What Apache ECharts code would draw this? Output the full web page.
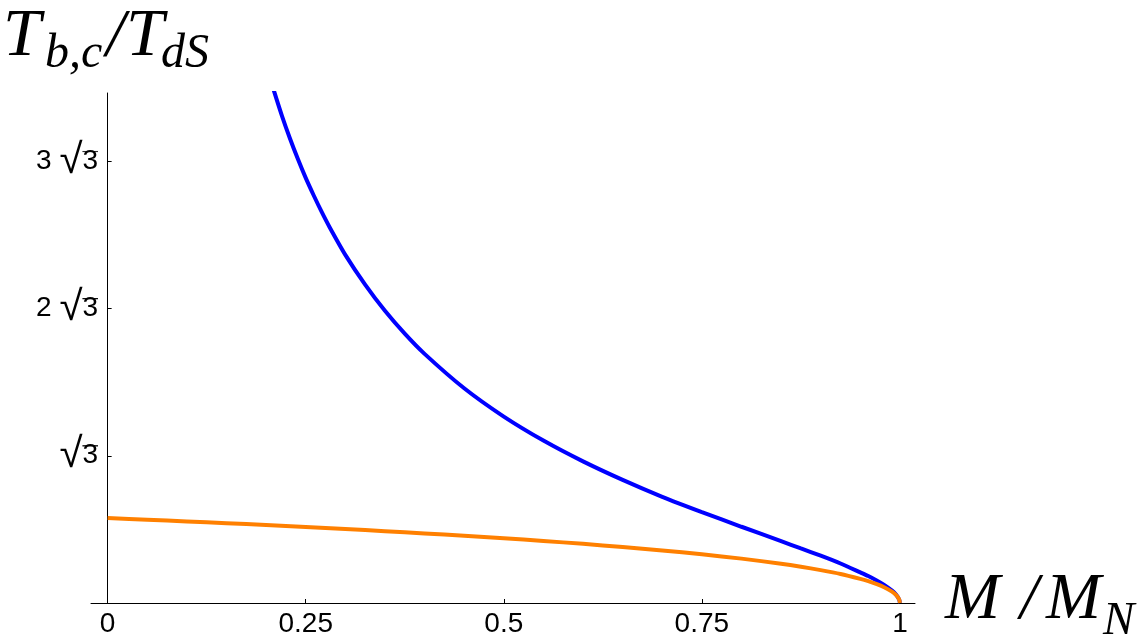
<!DOCTYPE html>
<html>
<head>
<meta charset="utf-8">
<script src="https://cdn.jsdelivr.net/npm/echarts@6/dist/echarts.min.js"></script>
<style>
html,body{margin:0;padding:0;background:#fff;}
#chart{width:1146px;height:644px;}
</style>
</head>
<body>
<div id="chart"></div>
<script>
// x positions (M / M_N) and values (T / T_dS)
var blueX = [0.205, 0.21, 0.22, 0.23, 0.24, 0.25, 0.26, 0.27, 0.28, 0.3, 0.325, 0.35, 0.375, 0.4, 0.45, 0.5, 0.55, 0.6, 0.65, 0.7, 0.75, 0.8, 0.85, 0.875, 0.9, 0.925, 0.95, 0.96, 0.97, 0.98, 0.99, 0.995, 0.999, 1];
var blueY = [6.177, 6.023, 5.732, 5.468, 5.226, 5.001, 4.797, 4.604, 4.424, 4.096, 3.746, 3.438, 3.169, 2.931, 2.526, 2.193, 1.911, 1.666, 1.448, 1.249, 1.069, 0.897, 0.728, 0.642, 0.556, 0.465, 0.360, 0.317, 0.268, 0.213, 0.145, 0.100, 0.041, 0];
var orangeX = [0, 0.05, 0.1, 0.15, 0.2, 0.25, 0.3, 0.35, 0.4, 0.45, 0.5, 0.55, 0.6, 0.65, 0.7, 0.75, 0.8, 0.85, 0.875, 0.9, 0.925, 0.95, 0.96, 0.97, 0.98, 0.99, 0.995, 0.999, 1];
var orangeY = [1.000, 0.980, 0.960, 0.939, 0.917, 0.894, 0.870, 0.845, 0.819, 0.791, 0.762, 0.730, 0.696, 0.659, 0.619, 0.573, 0.522, 0.462, 0.427, 0.387, 0.342, 0.284, 0.257, 0.225, 0.186, 0.134, 0.096, 0.044, 0];

var xTickValues = [0, 0.25, 0.5, 0.75, 1];
var xTickLabels = ['0', '0.25', '0.5', '0.75', '1'];
var yTickValues = [1.7320508, 3.4641016, 5.1961524];
var yTickCoef = ['', '2', '3'];
var yTickRadicand = ['3', '3', '3'];

function pairs(xs, ys) { return xs.map(function (x, i) { return [x, ys[i]]; }); }
function indexOf(values, v) {
  for (var i = 0; i < values.length; i++) { if (Math.abs(values[i] - v) < 1e-4) return i; }
  return -1;
}

// overline of the radical, used as background of the radicand fragment
var barCanvas = document.createElement('canvas');
barCanvas.width = 16; barCanvas.height = 40;
(function () {
  var c = barCanvas.getContext('2d');
  c.fillStyle = '#000';
  c.fillRect(0, 5, 16, 1.6);
})();

var chart = echarts.init(document.getElementById('chart'), null, {renderer: 'canvas'});
var serif = '"Liberation Serif", "DejaVu Serif", serif';
var labelFont = '"Liberation Sans", Arial, sans-serif';

chart.setOption({
  animation: false,
  backgroundColor: '#ffffff',
  grid: {left: 91, right: 231, top: 93, bottom: 41, containLabel: false},
  xAxis: {
    type: 'value', min: -0.021, max: 1.019,
    splitLine: {show: false},
    axisLine: {show: true, onZero: true, lineStyle: {color: '#000', width: 1}},
    axisTick: {show: true, inside: true, length: 4, customValues: xTickValues, lineStyle: {color: '#000'}},
    axisLabel: {show: true, customValues: xTickValues,
      formatter: function (v) { var i = indexOf(xTickValues, v); return i < 0 ? '' : xTickLabels[i]; },
      fontFamily: labelFont, fontSize: 28, color: '#000', margin: 7}
  },
  yAxis: {
    type: 'value', min: 0, max: 6.0,
    splitLine: {show: false},
    axisLine: {show: true, onZero: true, lineStyle: {color: '#000', width: 1}},
    axisTick: {show: true, inside: true, length: 4, customValues: yTickValues, lineStyle: {color: '#000'}},
    axisLabel: {show: true, customValues: yTickValues, margin: -7,
      formatter: function (v) {
        var i = indexOf(yTickValues, v);
        if (i < 0) return '';
        return (yTickCoef[i] ? '{n|' + yTickCoef[i] + ' }' : '') + '{r|\u221A}{o|' + yTickRadicand[i] + '}';
      },
      rich: {
        n: {fontFamily: labelFont, fontSize: 28, color: '#000', lineHeight: 40},
        r: {fontFamily: labelFont, fontSize: 42, color: '#000', lineHeight: 40},
        o: {fontFamily: labelFont, fontSize: 28, color: '#000', lineHeight: 40,
            backgroundColor: {image: barCanvas}}
      }
    }
  },
  series: [
    {type: 'line', data: pairs(blueX, blueY), showSymbol: false, symbol: 'none', smooth: 0.25, clip: true,
      lineStyle: {color: '#0000ff', width: 4}, z: 2},
    {type: 'line', data: pairs(orangeX, orangeY), showSymbol: false, symbol: 'none', smooth: 0.25, clip: true,
      lineStyle: {color: '#ff8000', width: 4}, z: 3}
  ],
  graphic: [
    {type: 'text', x: 3, y: 37, style: {text: 'T', font: 'italic 68px ' + serif, fill: '#000', verticalAlign: 'middle', align: 'left'}},
    {type: 'text', x: 45, y: 54, style: {text: 'b,c', font: 'italic 48px ' + serif, fill: '#000', verticalAlign: 'middle', align: 'left'}},
    {type: 'text', x: 106, y: 37, style: {text: '/', font: 'italic 68px ' + serif, fill: '#000', verticalAlign: 'middle', align: 'left'}},
    {type: 'text', x: 126, y: 37, style: {text: 'T', font: 'italic 68px ' + serif, fill: '#000', verticalAlign: 'middle', align: 'left'}},
    {type: 'text', x: 161, y: 54, style: {text: 'dS', font: 'italic 48px ' + serif, fill: '#000', verticalAlign: 'middle', align: 'left'}},
    {type: 'text', x: 945, y: 601, style: {text: 'M', font: 'italic 66px ' + serif, fill: '#000', verticalAlign: 'middle', align: 'left'}},
    {type: 'text', x: 1020, y: 601, style: {text: '/', font: 'italic 66px ' + serif, fill: '#000', verticalAlign: 'middle', align: 'left'}},
    {type: 'text', x: 1046, y: 601, style: {text: 'M', font: 'italic 66px ' + serif, fill: '#000', verticalAlign: 'middle', align: 'left'}},
    {type: 'text', x: 1103, y: 622, style: {text: 'N', font: 'italic 47px ' + serif, fill: '#000', verticalAlign: 'middle', align: 'left'}}
  ]
});
</script>
</body>
</html>
